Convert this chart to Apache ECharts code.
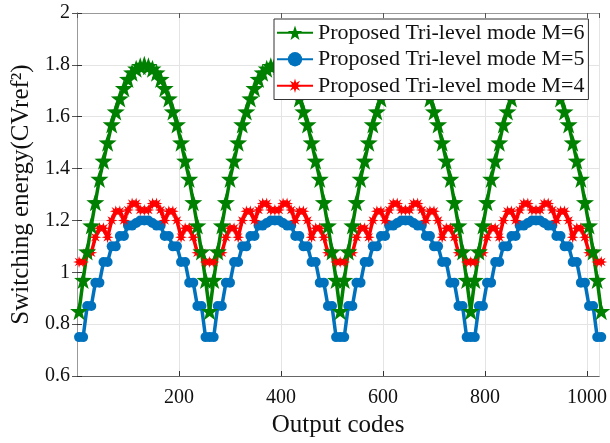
<!DOCTYPE html>
<html>
<head>
<meta charset="utf-8">
<script src="https://cdn.jsdelivr.net/npm/echarts@6/dist/echarts.min.js"></script>
<style>
html,body{margin:0;padding:0;background:#fff;}
#chart{width:610px;height:443px;}
</style>
</head>
<body>
<div id="chart"></div>
<script>
// Output codes (x positions of the sampled points)
var codes = [
4,12,20,28,36,44,52,60,68,76,84,92,100,108,116,124,
132,140,148,156,164,172,180,188,196,204,212,220,228,236,244,252,
260,268,276,284,292,300,308,316,324,332,340,348,356,364,372,380,
388,396,404,412,420,428,436,444,452,460,468,476,484,492,500,508,
516,524,532,540,548,556,564,572,580,588,596,604,612,620,628,636,
644,652,660,668,676,684,692,700,708,716,724,732,740,748,756,764,
772,780,788,796,804,812,820,828,836,844,852,860,868,876,884,892,
900,908,916,924,932,940,948,956,964,972,980,988,996,1004,1012,1020,
1028];

// Proposed Tri-level mode M=6
var m6 = [
0.85,0.97,1.08,1.18,1.27,1.36,1.43,1.50,1.57,1.62,1.67,1.71,1.745,1.77,1.785,1.795,
1.80,1.795,1.785,1.77,1.745,1.71,1.67,1.62,1.57,1.50,1.43,1.36,1.27,1.18,1.08,0.97,
0.85,0.97,1.08,1.18,1.27,1.36,1.43,1.50,1.57,1.62,1.67,1.71,1.745,1.77,1.785,1.795,
1.80,1.795,1.785,1.77,1.745,1.71,1.67,1.62,1.57,1.50,1.43,1.36,1.27,1.18,1.08,0.97,
0.85,0.97,1.08,1.18,1.27,1.36,1.43,1.50,1.57,1.62,1.67,1.71,1.745,1.77,1.785,1.795,
1.80,1.795,1.785,1.77,1.745,1.71,1.67,1.62,1.57,1.50,1.43,1.36,1.27,1.18,1.08,0.97,
0.85,0.97,1.08,1.18,1.27,1.36,1.43,1.50,1.57,1.62,1.67,1.71,1.745,1.77,1.785,1.795,
1.80,1.795,1.785,1.77,1.745,1.71,1.67,1.62,1.57,1.50,1.43,1.36,1.27,1.18,1.08,0.97,
0.85];

// Proposed Tri-level mode M=5
var m5 = [
0.75,0.75,0.87,0.87,0.96,0.96,1.04,1.04,1.10,1.10,1.14,1.14,1.18,1.18,1.19,1.20,
1.20,1.20,1.19,1.18,1.18,1.14,1.14,1.10,1.10,1.04,1.04,0.96,0.96,0.87,0.87,0.75,
0.75,0.75,0.87,0.87,0.96,0.96,1.04,1.04,1.10,1.10,1.14,1.14,1.18,1.18,1.19,1.20,
1.20,1.20,1.19,1.18,1.18,1.14,1.14,1.10,1.10,1.04,1.04,0.96,0.96,0.87,0.87,0.75,
0.75,0.75,0.87,0.87,0.96,0.96,1.04,1.04,1.10,1.10,1.14,1.14,1.18,1.18,1.19,1.20,
1.20,1.20,1.19,1.18,1.18,1.14,1.14,1.10,1.10,1.04,1.04,0.96,0.96,0.87,0.87,0.75,
0.75,0.75,0.87,0.87,0.96,0.96,1.04,1.04,1.10,1.10,1.14,1.14,1.18,1.18,1.19,1.20,
1.20,1.20,1.19,1.18,1.18,1.14,1.14,1.10,1.10,1.04,1.04,0.96,0.96,0.87,0.87,0.75,
0.75];

// Proposed Tri-level mode M=4
var m4 = [
1.04,1.04,1.075,1.075,1.135,1.17,1.17,1.135,1.20,1.235,1.235,1.20,1.24,1.265,1.265,1.24,
1.24,1.24,1.265,1.265,1.24,1.20,1.235,1.235,1.20,1.135,1.17,1.17,1.135,1.075,1.075,1.04,
1.04,1.04,1.075,1.075,1.135,1.17,1.17,1.135,1.20,1.235,1.235,1.20,1.24,1.265,1.265,1.24,
1.24,1.24,1.265,1.265,1.24,1.20,1.235,1.235,1.20,1.135,1.17,1.17,1.135,1.075,1.075,1.04,
1.04,1.04,1.075,1.075,1.135,1.17,1.17,1.135,1.20,1.235,1.235,1.20,1.24,1.265,1.265,1.24,
1.24,1.24,1.265,1.265,1.24,1.20,1.235,1.235,1.20,1.135,1.17,1.17,1.135,1.075,1.075,1.04,
1.04,1.04,1.075,1.075,1.135,1.17,1.17,1.135,1.20,1.235,1.235,1.20,1.24,1.265,1.265,1.24,
1.24,1.24,1.265,1.265,1.24,1.20,1.235,1.235,1.20,1.135,1.17,1.17,1.135,1.075,1.075,1.04,
1.04];

var seriesNames = ['Proposed Tri-level mode M=6','Proposed Tri-level mode M=5','Proposed Tri-level mode M=4'];
var xTickValues = [200,400,600,800,1000];

function pairs(xs, ys){ var out=[]; for(var i=0;i<xs.length;i++){ out.push([xs[i], ys[i]]); } return out; }

var STAR = 'path://M0,-10 L2.35,-3.24 L9.51,-3.09 L3.80,1.24 L5.88,8.09 L0,4 L-5.88,8.09 L-3.80,1.24 L-9.51,-3.09 L-2.35,-3.24 Z';
var ASTER = 'path://M10,0 L4,1.66 L7.07,7.07 L1.66,4 L0,10 L-1.66,4 L-7.07,7.07 L-4,1.66 L-10,0 L-4,-1.66 L-7.07,-7.07 L-1.66,-4 L0,-10 L1.66,-4 L7.07,-7.07 L4,-1.66 Z';

var FONT = '"Liberation Serif","DejaVu Serif",serif';
var chart = echarts.init(document.getElementById('chart'), null, {renderer:'canvas'});

var xLabelFmt = function(v){ return xTickValues.indexOf(v) >= 0 ? String(v) : ''; };

chart.setOption({
  animation:false,
  backgroundColor:'#fff',
  grid:{left:77, right:10, top:13, bottom:64, containLabel:false},
  legend:{
    z:20, zlevel:0,
    orient:'vertical', left:274, top:19,
    data:[seriesNames[0], seriesNames[1], seriesNames[2]],
    backgroundColor:'#fff', borderColor:'#333', borderWidth:1,
    padding:[2,4,2,2], itemGap:3, itemWidth:36, itemHeight:18,
    textStyle:{fontFamily:FONT, fontSize:22, color:'#111', lineHeight:23.5}
  },
  xAxis:[{
    type:'value', min:0, max:1024, interval:200,
    name:'Output codes', nameLocation:'middle', nameGap:37,
    nameTextStyle:{fontFamily:FONT, fontSize:25, color:'#111'},
    axisLine:{show:true, lineStyle:{color:'#666', width:1}},
    axisTick:{show:true, inside:true, length:5, lineStyle:{color:'#333'}},
    axisLabel:{fontFamily:FONT, fontSize:20, color:'#111', margin:12, formatter:xLabelFmt, showMinLabel:false, showMaxLabel:false},
    splitLine:{show:true, lineStyle:{color:'#e4e4e4', width:1}}
  },{
    type:'value', min:0, max:1024, interval:200, position:'top',
    axisLine:{show:true, lineStyle:{color:'#999', width:1}},
    axisTick:{show:true, inside:true, length:5, lineStyle:{color:'#555'}},
    axisLabel:{show:false}, splitLine:{show:false}
  }],
  yAxis:[{
    type:'value', min:0.6, max:2, interval:0.2,
    name:'Switching energy(CVref²)', nameLocation:'middle', nameGap:40,
    nameTextStyle:{fontFamily:FONT, fontSize:25, color:'#111'},
    axisLine:{show:true, lineStyle:{color:'#666', width:1}},
    axisTick:{show:true, inside:true, length:5, lineStyle:{color:'#333'}},
    axisLabel:{fontFamily:FONT, fontSize:20, color:'#111', margin:7},
    splitLine:{show:true, lineStyle:{color:'#e4e4e4', width:1}}
  },{
    type:'value', min:0.6, max:2, interval:0.2, position:'right',
    axisLine:{show:true, lineStyle:{color:'#999', width:1}},
    axisTick:{show:true, inside:true, length:5, lineStyle:{color:'#555'}},
    axisLabel:{show:false}, splitLine:{show:false}
  }],
  series:[
    {name:seriesNames[1], type:'line', data:pairs(codes, m5), clip:false, z:2,
     symbol:'circle', symbolSize:10, showAllSymbol:true,
     itemStyle:{color:'#0072BD'}, lineStyle:{color:'#0072BD', width:3.5}},
    {name:seriesNames[2], type:'line', data:pairs(codes, m4), clip:false, z:2,
     symbol:ASTER, symbolSize:12, showAllSymbol:true,
     itemStyle:{color:'#ff0000'}, lineStyle:{color:'#ff0000', width:3.5}},
    {name:seriesNames[0], type:'line', data:pairs(codes, m6), clip:false, z:2,
     symbol:STAR, symbolSize:18, showAllSymbol:true,
     itemStyle:{color:'#008000'}, lineStyle:{color:'#008000', width:3.5}}
  ]
});
</script>
</body>
</html>
